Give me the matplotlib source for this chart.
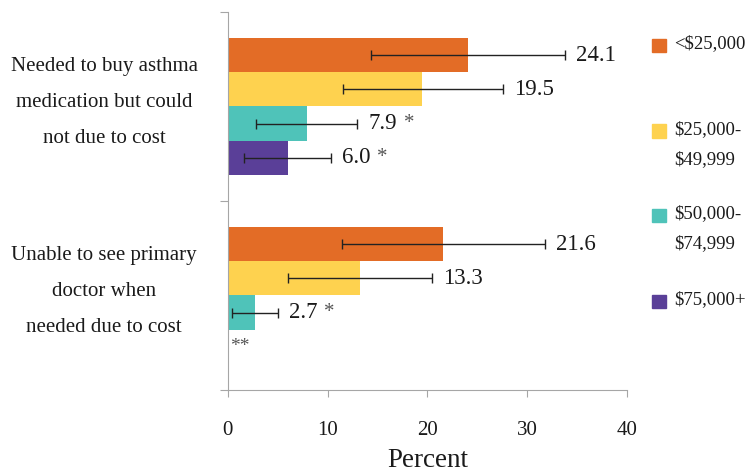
import matplotlib
matplotlib.use("Agg")
import matplotlib.pyplot as plt
import numpy as np
from matplotlib.patches import Rectangle

plt.rcParams['font.family'] = ['Liberation Serif', 'DejaVu Serif']

# data
categories = ["Needed to buy asthma\nmedication but could\nnot due to cost",
              "Unable to see primary\ndoctor when\nneeded due to cost"]
groups = ["<$25,000", "$25,000-\n$49,999", "$50,000-\n$74,999", "$75,000+"]
colors = ["#E36C26", "#FED24F", "#4FC3B9", "#5A3F98"]
values = [[24.1, 19.5, 7.9, 6.0],
          [21.6, 13.3, 2.7, np.nan]]
ci_low = [[14.4, 11.5, 2.8, 1.6],
          [11.4, 6.0, 0.4, np.nan]]
ci_high = [[33.8, 27.6, 13.0, 10.3],
           [31.8, 20.5, 5.0, np.nan]]
flags = [["", "", "*", "*"],
         ["", "", "*", ""]]

fig = plt.figure(figsize=(7.47, 4.75), dpi=100)
ax = fig.add_axes([0.305, 0.179, 0.534, 0.796])

h = 0.181
ypos = np.arange(len(categories))
for g in range(len(groups)):
    y = ypos + (g - 1.5) * h
    v = np.array([row[g] for row in values])
    lo = np.array([row[g] for row in ci_low])
    hi = np.array([row[g] for row in ci_high])
    ok = ~np.isnan(v)
    ax.barh(y[ok], v[ok], height=h, color=colors[g], zorder=2)
    ax.errorbar(((lo + hi) / 2)[ok], y[ok], xerr=((hi - lo) / 2)[ok],
                fmt="none", ecolor="#222222", elinewidth=1.0,
                capsize=3.5, capthick=1.0, zorder=3)
    for i in range(len(categories)):
        if ok[i]:
            txt = ax.annotate(f"{v[i]:.1f}", (hi[i], y[i]), xytext=(8, 0),
                              textcoords="offset points", va="center", ha="left",
                              fontsize=16.5, color="#1a1a1a")
            if flags[i][g]:
                ax.annotate(flags[i][g], xy=(1, 0.5), xycoords=txt, xytext=(5, 0),
                            textcoords="offset points", va="center", ha="left",
                            fontsize=15, color="#555555")
        else:
            ax.text(0.2, y[i], "**", va="center", ha="left", fontsize=14,
                    color="#555555")

ax.set_xlim(0, 40)
ax.set_ylim(1.5, -0.5)
ax.set_xticks([0, 10, 20, 30, 40])
ax.set_yticks([-0.5, 0.5, 1.5])
ax.set_yticklabels([])
ax.tick_params(axis="x", labelsize=15, length=5, color="#a6a6a6", pad=17, labelcolor="#1a1a1a")
ax.tick_params(axis="y", length=6, color="#a6a6a6")
for s in ["top", "right"]:
    ax.spines[s].set_visible(False)
for s in ["left", "bottom"]:
    ax.spines[s].set_color("#a6a6a6")
ax.set_xlabel("Percent", fontsize=19.5, color="#1a1a1a", labelpad=6)

for i, c in enumerate(categories):
    ax.text(-0.31, ypos[i] - 0.02, c, transform=ax.get_yaxis_transform(), ha="center",
            va="center", fontsize=15, linespacing=2.2, color="#1a1a1a")

# legend on the right
leg_y = [0.904, 0.724, 0.547, 0.366]
for g, lab in enumerate(groups):
    fig.patches.append(Rectangle((0.873, leg_y[g] - 0.014), 0.019, 0.028,
                                 transform=fig.transFigure, color=colors[g]))
    fig.text(0.903, leg_y[g] + 0.022, lab, ha="left", va="top", fontsize=13.5,
             linespacing=2.05, color="#1a1a1a")

fig.savefig("out.png", dpi=100)
